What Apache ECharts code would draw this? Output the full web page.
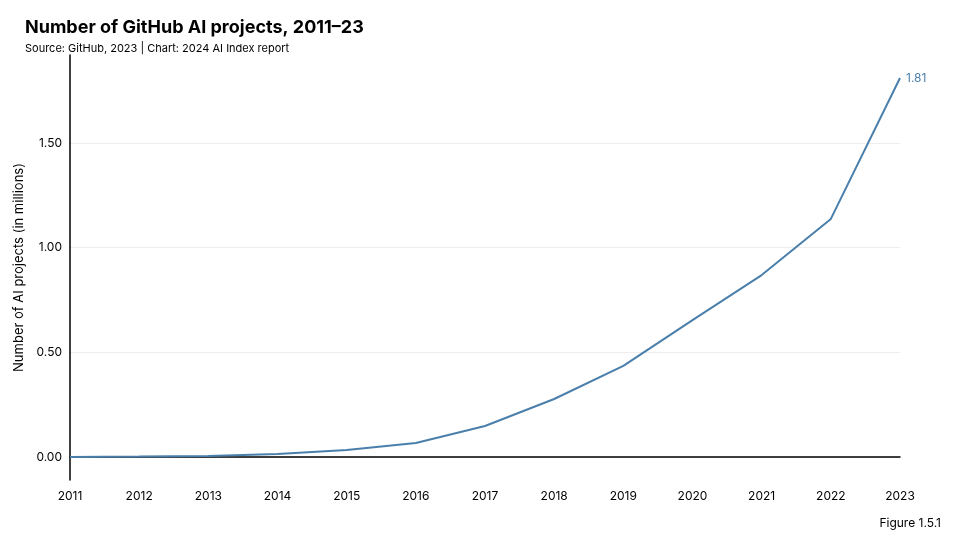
<!DOCTYPE html>
<html><head><meta charset="utf-8">
<script src="https://cdn.jsdelivr.net/npm/echarts@6/dist/echarts.min.js"></script>
<style>html,body{margin:0;background:#fff}#main{width:960px;height:548px}</style>
</head><body><div id="main"></div>
<script>
var years = ['2011','2012','2013','2014','2015','2016','2017','2018','2019','2020','2021','2022','2023'];
var projects = [0.00, 0.002, 0.005, 0.014, 0.033, 0.067, 0.148, 0.277, 0.435, 0.654, 0.869, 1.137, 1.81];
var yTicks = [0, 0.5, 1, 1.5];

var chart = echarts.init(document.getElementById('main'));
var font = 'Inter, "Noto Sans", sans-serif';
chart.setOption({
  textStyle: {fontFamily: font},
  title: [
    {text: 'Number of GitHub AI projects, 2011–23', left: 20, top: 14,
     textStyle: {fontSize: 18, fontWeight: 'bold', color: '#000', fontFamily: font}},
    {text: 'Source: GitHub, 2023 | Chart: 2024 AI Index report', left: 20, top: 38,
     textStyle: {fontSize: 11, fontWeight: 'normal', color: '#000', fontFamily: font}},
    {text: 'Figure 1.5.1', right: 14, bottom: 14,
     textStyle: {fontSize: 12, fontWeight: 'normal', color: '#000', fontFamily: font}}
  ],
  grid: {left: 70, right: 60, top: 55, bottom: 68},
  xAxis: {
    type: 'category', data: years, boundaryGap: false,
    axisLine: {lineStyle: {color: '#000', width: 1.5}},
    axisTick: {show: false},
    axisLabel: {color: '#000', fontSize: 12, margin: 10}
  },
  yAxis: {
    type: 'value', min: -0.11, max: 1.92,
    name: 'Number of AI projects (in millions)', nameLocation: 'middle', nameGap: 42,
    nameTextStyle: {color: '#000', fontSize: 13},
    axisLine: {show: true, lineStyle: {color: '#000', width: 1.5}},
    axisTick: {show: false, customValues: yTicks},
    axisLabel: {color: '#000', fontSize: 12, customValues: yTicks,
      formatter: function (v) { return v.toFixed(2); }},
    splitLine: {show: true, lineStyle: {color: '#eeeeee'}}
  },
  series: [{
    type: 'line', data: projects, symbol: 'none',
    lineStyle: {color: '#4a7fab', width: 2},
    itemStyle: {color: '#4a7fab'},
    endLabel: {show: true, color: '#4a7fab', fontSize: 12, distance: 6,
      formatter: function (p) { return p.value.toFixed(2); }}
  }]
});
</script></body></html>
